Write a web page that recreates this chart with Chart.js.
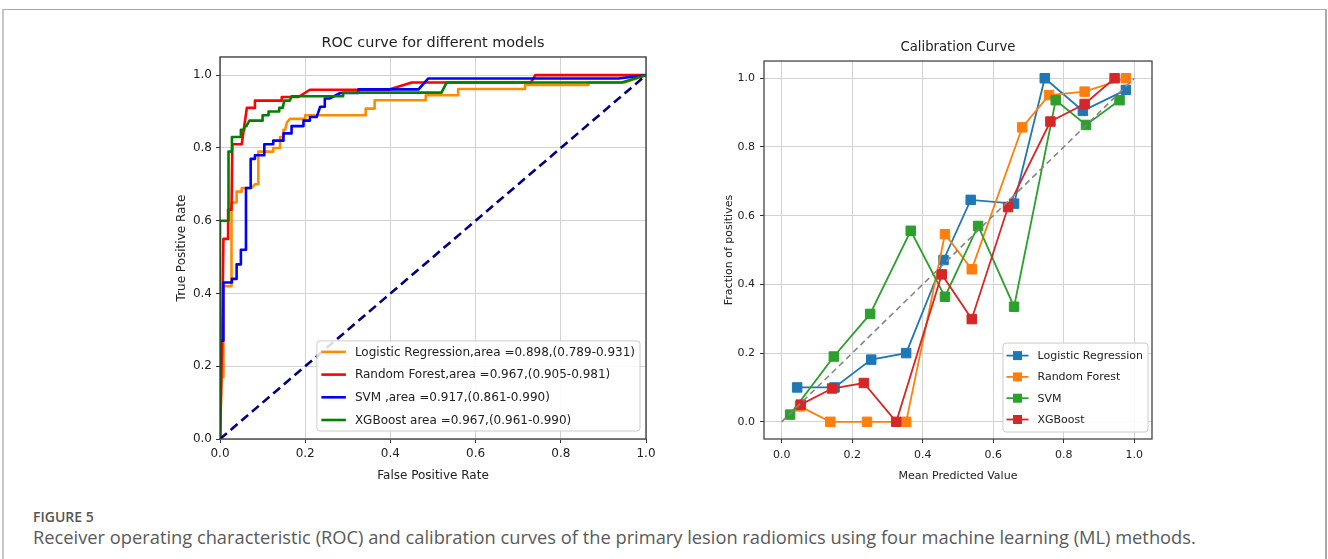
<!DOCTYPE html>
<html><head><meta charset="utf-8">
<script src="https://cdn.jsdelivr.net/npm/chart.js@4.4.1/dist/chart.umd.min.js"></script>
<style>
html,body{margin:0;padding:0;background:#fff;width:1328px;height:559px;overflow:hidden;}
#frame{position:absolute;left:2px;top:9px;width:1321px;height:560px;border-top:1px solid #a9a9a9;border-left:2px solid #c6c6ce;border-right:2px solid #a9a9a9;}
#roc{position:absolute;left:150px;top:20px;}
#cal{position:absolute;left:690px;top:20px;}
#figlabel{position:absolute;left:33px;top:507px;font-family:'Open Sans';font-size:14px;font-weight:600;color:#555;}
#caption{position:absolute;left:33px;top:524px;font-family:'Open Sans';font-size:18.3px;color:#5a5a5a;white-space:nowrap;}
</style></head>
<body>
<div id="frame"></div>
<canvas id="roc" width="566" height="480"></canvas>
<canvas id="cal" width="536" height="480"></canvas>
<div id="figlabel">FIGURE 5</div>
<div id="caption">Receiver operating characteristic (ROC) and calibration curves of the primary lesion radiomics using four machine learning (ML) methods.</div>
<script>
// ---------- ROC data ----------
const rocTitle = 'ROC curve for different models';
const rocLabels = [
  'Logistic Regression,area =0.898,(0.789-0.931)',
  'Random Forest,area =0.967,(0.905-0.981)',
  'SVM ,area =0.917,(0.861-0.990)',
  'XGBoost area =0.967,(0.961-0.990)'
];
const lrFpr = [0,0.004,0.008,0.008,0.027,0.027,0.039,0.039,0.051,0.051,0.074,0.082,0.09,0.09,0.125,0.125,0.141,0.141,0.149,0.149,0.153,0.157,0.164,0.2,0.2,0.342,0.342,0.363,0.363,0.483,0.483,0.559,0.559,0.716,0.716,0.865,0.865,0.95,1];
const lrTpr = [0,0.17,0.17,0.42,0.42,0.65,0.65,0.68,0.68,0.69,0.69,0.70,0.70,0.79,0.79,0.80,0.80,0.83,0.83,0.85,0.85,0.87,0.88,0.88,0.89,0.89,0.908,0.908,0.931,0.931,0.945,0.945,0.962,0.962,0.973,0.973,0.98,0.98,1];
const rfFpr = [0,0.003,0.005,0.008,0.019,0.019,0.027,0.029,0.051,0.063,0.082,0.082,0.145,0.145,0.184,0.211,0.395,0.45,0.73,0.74,1];
const rfTpr = [0,0.17,0.27,0.55,0.55,0.63,0.63,0.81,0.81,0.91,0.91,0.93,0.93,0.94,0.94,0.96,0.96,0.98,0.98,1.0,1];
const svmFpr = [0,0,0.008,0.008,0.028,0.028,0.039,0.039,0.049,0.049,0.061,0.061,0.072,0.072,0.082,0.082,0.104,0.104,0.125,0.125,0.149,0.149,0.168,0.168,0.196,0.196,0.211,0.211,0.227,0.235,0.246,0.246,0.258,0.282,0.325,0.325,0.466,0.489,0.935,1];
const svmTpr = [0,0.27,0.27,0.43,0.43,0.44,0.44,0.48,0.48,0.52,0.52,0.69,0.69,0.77,0.77,0.78,0.78,0.81,0.81,0.82,0.82,0.84,0.84,0.86,0.86,0.875,0.875,0.885,0.885,0.913,0.913,0.936,0.936,0.951,0.951,0.961,0.961,0.991,0.991,1];
const xgbFpr = [0,0,0.02,0.02,0.028,0.028,0.049,0.049,0.057,0.057,0.062,0.069,0.1,0.1,0.114,0.114,0.139,0.139,0.147,0.151,0.164,0.168,0.289,0.289,0.52,0.532,0.943,1];
const xgbTpr = [0,0.6,0.6,0.79,0.79,0.83,0.83,0.85,0.85,0.86,0.86,0.875,0.875,0.89,0.89,0.90,0.90,0.91,0.91,0.93,0.93,0.942,0.942,0.952,0.952,0.98,0.98,1];
const chanceX = [0,1];
const chanceY = [0,1];
const rocXLabel = 'False Positive Rate';
const rocYLabel = 'True Positive Rate';

// ---------- Calibration data ----------
const calTitle = 'Calibration Curve';
const calLabels = ['Logistic Regression','Random Forest','SVM','XGBoost'];
const calLrX = [0.044,0.150,0.254,0.353,0.459,0.536,0.659,0.746,0.854,0.976];
const calLrY = [0.100,0.100,0.181,0.200,0.471,0.646,0.635,1.0,0.905,0.966];
const calRfX = [0.052,0.138,0.242,0.353,0.463,0.539,0.682,0.758,0.859,0.976];
const calRfY = [0.045,0.0,0.0,0.0,0.546,0.444,0.857,0.951,0.961,1.0];
const calSvmX = [0.024,0.148,0.251,0.366,0.463,0.557,0.659,0.777,0.863,0.958];
const calSvmY = [0.021,0.190,0.314,0.556,0.364,0.570,0.335,0.936,0.864,0.936];
const calXgbX = [0.054,0.143,0.233,0.325,0.454,0.539,0.642,0.762,0.859,0.944];
const calXgbY = [0.050,0.097,0.113,0.0,0.429,0.299,0.625,0.874,0.925,1.0];
const calXLabel = 'Mean Predicted Value';
const calYLabel = 'Fraction of positives';

const FONT = 'DejaVu Sans';
function pts(xs, ys){ return xs.map((x,i)=>({x:x, y:ys[i]})); }
const fmt = v => Number(v).toFixed(1);

const framePlugin = {
  id:'frame',
  afterDatasetsDraw(chart, args, o){
    const a = chart.chartArea, c = chart.ctx;
    c.save(); c.strokeStyle = o.color; c.lineWidth = o.width;
    c.strokeRect(a.left, a.top, a.right-a.left, a.bottom-a.top);
    c.restore();
  }
};
const boxLegend = {
  id:'boxLegend',
  afterDraw(chart, args, o){
    const a = chart.chartArea, c = chart.ctx;
    c.save();
    c.font = o.fontSize + 'px "' + FONT + '"';
    const items = o.items.map(i => chart.data.datasets[i]);
    const tw = Math.max(...items.map(d => c.measureText(d.label).width));
    const w = o.padL + o.handle + o.gap + tw + o.padR;
    const h = o.first*2 + o.rowH*(items.length-1);
    const right = a.right - o.insetR, bottom = a.bottom - o.insetB;
    const left = right - w, top = bottom - h;
    c.beginPath();
    if (c.roundRect) c.roundRect(left, top, w, h, 3); else c.rect(left, top, w, h);
    c.fillStyle = 'rgba(255,255,255,0.85)'; c.fill();
    c.strokeStyle = '#cccccc'; c.lineWidth = 1; c.stroke();
    items.forEach((d, i) => {
      const y = top + o.first + i*o.rowH;
      const x0 = left + o.padL, x1 = x0 + o.handle;
      c.beginPath(); c.setLineDash([]);
      c.strokeStyle = d.borderColor; c.lineWidth = d.borderWidth;
      c.moveTo(x0, y); c.lineTo(x1, y); c.stroke();
      if (o.marker) {
        const s = o.markerSize;
        c.fillStyle = d.pointBackgroundColor;
        c.fillRect((x0+x1)/2 - s/2, y - s/2, s, s);
      }
      c.fillStyle = '#222'; c.textBaseline = 'middle'; c.textAlign = 'left';
      c.fillText(d.label, x1 + o.gap, y + 0.5);
    });
    c.restore();
  }
};

function axisOpts(o){
  return {
    type:'linear', min:o.min, max:o.max,
    afterFit: o.fit,
    ticks:{stepSize:0.2, includeBounds:false, callback:fmt, color:'#222', font:{family:FONT, size:o.size}, padding:o.pad, maxRotation:0, autoSkip:false},
    grid:{color:'#d3d3d3', lineWidth:1, tickLength:4, tickColor:'#333', drawTicks:true},
    border:{display:false},
    title:{display:true, text:o.title, color:'#222', font:{family:FONT, size:o.size}, padding:o.tpad}
  };
}
// invisible right-hand spacer axis so the title centres over the plot area
function spacer(w){
  return {type:'linear', position:'right', display:true, min:0, max:1,
    afterFit:s=>{s.width=w;}, ticks:{display:false}, grid:{display:false, drawTicks:false}, border:{display:false}, title:{display:false}};
}

// ---------- ROC chart ----------
const rocColors = ['#ff8c00','#ff0000','#0000ff','#008000'];
new Chart(document.getElementById('roc'), {
  type:'scatter',
  data:{datasets:[
    {label:rocLabels[0], data:pts(lrFpr, lrTpr), borderColor:rocColors[0], order:5},
    {label:rocLabels[1], data:pts(rfFpr, rfTpr), borderColor:rocColors[1], order:4},
    {label:rocLabels[2], data:pts(svmFpr, svmTpr), borderColor:rocColors[2], order:3},
    {label:rocLabels[3], data:pts(xgbFpr, xgbTpr), borderColor:rocColors[3], order:2},
    {label:'chance', data:pts(chanceX, chanceY), borderColor:'#000080', borderDash:[9,5], order:1}
  ].map(d => Object.assign({showLine:true, pointRadius:0, borderWidth:2.6, tension:0, fill:false, borderJoinStyle:'round'}, d))},
  options:{
    responsive:false, animation:false, events:[],
    layout:{padding:0},
    scales:{
      x: axisOpts({min:0, max:1, size:12, pad:4, title:rocXLabel, tpad:{top:0,bottom:16.8}, fit:s=>{s.height=61;}}),
      y: axisOpts({min:0, max:1.05, size:12, pad:4, title:rocYLabel, tpad:{top:24.8,bottom:0}, fit:s=>{s.width=70;}}),
      pad: spacer(70)
    },
    plugins:{
      legend:{display:false}, tooltip:{enabled:false},
      title:{display:true, text:rocTitle, color:'#222', font:{family:FONT, size:14.4, weight:'normal'}, padding:{top:14.4, bottom:5.3}},
      frame:{color:'#333', width:1.3},
      boxLegend:{items:[0,1,2,3], fontSize:12, padL:4.5, handle:24.5, gap:9, padR:5, first:11, rowH:22.7, insetR:6, insetB:8, marker:false}
    }
  },
  plugins:[framePlugin, boxLegend]
});

// ---------- Calibration chart ----------
const calColors = ['#1f77b4','#ff7f0e','#2ca02c','#d62728'];
new Chart(document.getElementById('cal'), {
  type:'scatter',
  data:{datasets:[
    {label:calLabels[0], data:pts(calLrX, calLrY), borderColor:calColors[0], pointBackgroundColor:calColors[0], pointBorderColor:calColors[0], order:5},
    {label:calLabels[1], data:pts(calRfX, calRfY), borderColor:calColors[1], pointBackgroundColor:calColors[1], pointBorderColor:calColors[1], order:4},
    {label:calLabels[2], data:pts(calSvmX, calSvmY), borderColor:calColors[2], pointBackgroundColor:calColors[2], pointBorderColor:calColors[2], order:3},
    {label:calLabels[3], data:pts(calXgbX, calXgbY), borderColor:calColors[3], pointBackgroundColor:calColors[3], pointBorderColor:calColors[3], order:2},
    {label:'diag', data:pts(chanceX, chanceY), borderColor:'#858585', borderDash:[6,4], borderWidth:1.6, pointRadius:0, order:1}
  ].map(d => Object.assign({showLine:true, pointStyle:'rect', pointRadius:6.7, pointBorderWidth:1, borderWidth:1.8, tension:0, fill:false}, d))},
  options:{
    responsive:false, animation:false, events:[],
    layout:{padding:0},
    scales:{
      x: axisOpts({min:-0.05, max:1.05, size:11, pad:6, title:calXLabel, tpad:{top:0,bottom:17.4}, fit:s=>{s.height=61;}}),
      y: axisOpts({min:-0.05, max:1.05, size:11, pad:5, title:calYLabel, tpad:{top:32.4,bottom:0}, fit:s=>{s.width=74;}}),
      pad: spacer(74)
    },
    plugins:{
      legend:{display:false}, tooltip:{enabled:false},
      title:{display:true, text:calTitle, color:'#222', font:{family:FONT, size:13.2, weight:'normal'}, padding:{top:20, bottom:5.2}},
      frame:{color:'#444', width:1.3},
      boxLegend:{items:[0,1,2,3], fontSize:11, padL:3.5, handle:22, gap:9, padR:5, first:12.5, rowH:21.3, insetR:4, insetB:7, marker:true, markerSize:9}
    }
  },
  plugins:[framePlugin, boxLegend]
});
</script>
</body></html>
